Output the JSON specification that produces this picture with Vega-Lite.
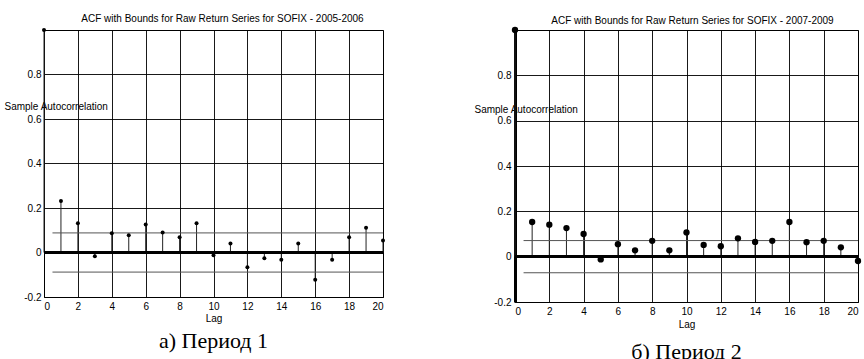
{
  "$schema": "https://vega.github.io/schema/vega-lite/v6.json",
  "padding": {"left": 3, "top": 12, "right": 0, "bottom": 0},
  "background": "white",
  "spacing": 132,
  "bounds": "flush",
  "config": {
    "view": {"stroke": "#000", "strokeWidth": 1},
    "font": "Liberation Sans",
    "axis": {
      "labelFont": "Liberation Sans", "labelFontSize": 10, "labelColor": "#000",
      "titleFont": "Liberation Sans", "titleFontSize": 10, "titleFontWeight": "normal", "titleColor": "#000",
      "ticks": false, "tickSize": 0, "domain": false,
      "gridColor": "#000", "gridOpacity": 0.9, "gridWidth": 1
    },
    "title": {"font": "Liberation Serif", "fontSize": 22, "fontWeight": "normal", "color": "#000", "orient": "bottom", "anchor": "middle", "baseline": "top"}
  },
  "hconcat": [
    {
      "width": 339, "height": 267,
      "title": {"text": "а) Период 1", "orient": "bottom", "offset": 8},
      "data": {"values": [
        {"lag": 0, "acf": 1}, {"lag": 1, "acf": 0.232}, {"lag": 2, "acf": 0.132}, {"lag": 3, "acf": -0.017},
        {"lag": 4, "acf": 0.087}, {"lag": 5, "acf": 0.077}, {"lag": 6, "acf": 0.126}, {"lag": 7, "acf": 0.090},
        {"lag": 8, "acf": 0.069}, {"lag": 9, "acf": 0.132}, {"lag": 10, "acf": -0.012}, {"lag": 11, "acf": 0.041},
        {"lag": 12, "acf": -0.066}, {"lag": 13, "acf": -0.026}, {"lag": 14, "acf": -0.033}, {"lag": 15, "acf": 0.041},
        {"lag": 16, "acf": -0.122}, {"lag": 17, "acf": -0.033}, {"lag": 18, "acf": 0.069}, {"lag": 19, "acf": 0.111},
        {"lag": 20, "acf": 0.054}
      ]},
      "layer": [
        {
          "mark": {"type": "rule", "color": "#222", "strokeWidth": 1},
          "encoding": {
            "x": {"field": "lag", "type": "quantitative", "scale": {"domain": [0, 20], "nice": false},
                  "axis": {"orient": "bottom", "title": "Lag", "values": [0, 2, 4, 6, 8, 10, 12, 14, 16, 18, 20], "grid": true, "labelPadding": 4, "titlePadding": 2}},
            "y": {"field": "acf", "type": "quantitative", "scale": {"domain": [-0.2, 1], "nice": false},
                  "axis": {"orient": "left", "title": "Sample Autocorrelation", "values": [-0.2, 0, 0.2, 0.4, 0.6, 0.8], "grid": true,
                           "labelExpr": "'' + round(datum.value*10)/10", "labelPadding": 3,
                           "titleAngle": 0, "titleAlign": "left", "titleBaseline": "middle", "titleX": -40, "titleY": 76}},
            "y2": {"datum": 0}
          }
        },
        {
          "data": {"values": [{"b": 0.088, "x1": 0.5, "x2": 20}, {"b": -0.088, "x1": 0.5, "x2": 20}]},
          "mark": {"type": "rule", "color": "#555", "strokeWidth": 1},
          "encoding": {
            "x": {"field": "x1", "type": "quantitative",
                  "axis": {"orient": "top", "title": "ACF with Bounds for Raw Return Series for SOFIX - 2005-2006", "labels": false, "grid": false, "titlePadding": 7, "titleX": 178, "titleAlign": "center"}},
            "x2": {"field": "x2"},
            "y": {"field": "b", "type": "quantitative"}
          }
        },
        {
          "mark": {"type": "rule", "color": "#000", "strokeWidth": 2},
          "encoding": {"y": {"datum": 0, "type": "quantitative"}}
        },
        {
          "mark": {"type": "point", "filled": true, "color": "#000", "size": 16, "opacity": 1},
          "encoding": {
            "x": {"field": "lag", "type": "quantitative", "axis": null},
            "y": {"field": "acf", "type": "quantitative"}
          }
        }
      ]
    },
    {
      "width": 343, "height": 272,
      "title": {"text": "б) Период 2", "orient": "bottom", "offset": 13},
      "data": {"values": [
        {"lag": 0, "acf": 1}, {"lag": 1, "acf": 0.153}, {"lag": 2, "acf": 0.141}, {"lag": 3, "acf": 0.126},
        {"lag": 4, "acf": 0.100}, {"lag": 5, "acf": -0.012}, {"lag": 6, "acf": 0.055}, {"lag": 7, "acf": 0.028},
        {"lag": 8, "acf": 0.070}, {"lag": 9, "acf": 0.028}, {"lag": 10, "acf": 0.107}, {"lag": 11, "acf": 0.052},
        {"lag": 12, "acf": 0.046}, {"lag": 13, "acf": 0.081}, {"lag": 14, "acf": 0.065}, {"lag": 15, "acf": 0.070},
        {"lag": 16, "acf": 0.153}, {"lag": 17, "acf": 0.064}, {"lag": 18, "acf": 0.070}, {"lag": 19, "acf": 0.041},
        {"lag": 20, "acf": -0.019}
      ]},
      "layer": [
        {
          "mark": {"type": "rule", "color": "#222", "strokeWidth": 1},
          "encoding": {
            "x": {"field": "lag", "type": "quantitative", "scale": {"domain": [0, 20], "nice": false},
                  "axis": {"orient": "bottom", "title": "Lag", "values": [0, 2, 4, 6, 8, 10, 12, 14, 16, 18, 20], "grid": true, "labelPadding": 4, "titlePadding": 3}},
            "y": {"field": "acf", "type": "quantitative", "scale": {"domain": [-0.2, 1], "nice": false},
                  "axis": {"orient": "left", "title": "Sample Autocorrelation", "values": [-0.2, 0, 0.2, 0.4, 0.6, 0.8], "grid": true,
                           "domain": true, "domainColor": "#000", "domainWidth": 3,
                           "labelExpr": "'' + round(datum.value*10)/10", "labelPadding": 4,
                           "titleAngle": 0, "titleAlign": "left", "titleBaseline": "middle", "titleX": -41, "titleY": 79}},
            "y2": {"datum": 0}
          }
        },
        {
          "data": {"values": [{"b": 0.071, "x1": 0.5, "x2": 20}, {"b": -0.071, "x1": 0.5, "x2": 20}]},
          "mark": {"type": "rule", "color": "#555", "strokeWidth": 1},
          "encoding": {
            "x": {"field": "x1", "type": "quantitative",
                  "axis": {"orient": "top", "title": "ACF with Bounds for Raw Return Series for SOFIX - 2007-2009", "labels": false, "grid": false, "titlePadding": 5, "titleX": 177, "titleAlign": "center"}},
            "x2": {"field": "x2"},
            "y": {"field": "b", "type": "quantitative"}
          }
        },
        {
          "mark": {"type": "rule", "color": "#000", "strokeWidth": 2},
          "encoding": {"y": {"datum": 0, "type": "quantitative"}}
        },
        {
          "mark": {"type": "point", "filled": true, "color": "#000", "size": 40, "opacity": 1},
          "encoding": {
            "x": {"field": "lag", "type": "quantitative", "axis": null},
            "y": {"field": "acf", "type": "quantitative"}
          }
        }
      ]
    }
  ]
}
